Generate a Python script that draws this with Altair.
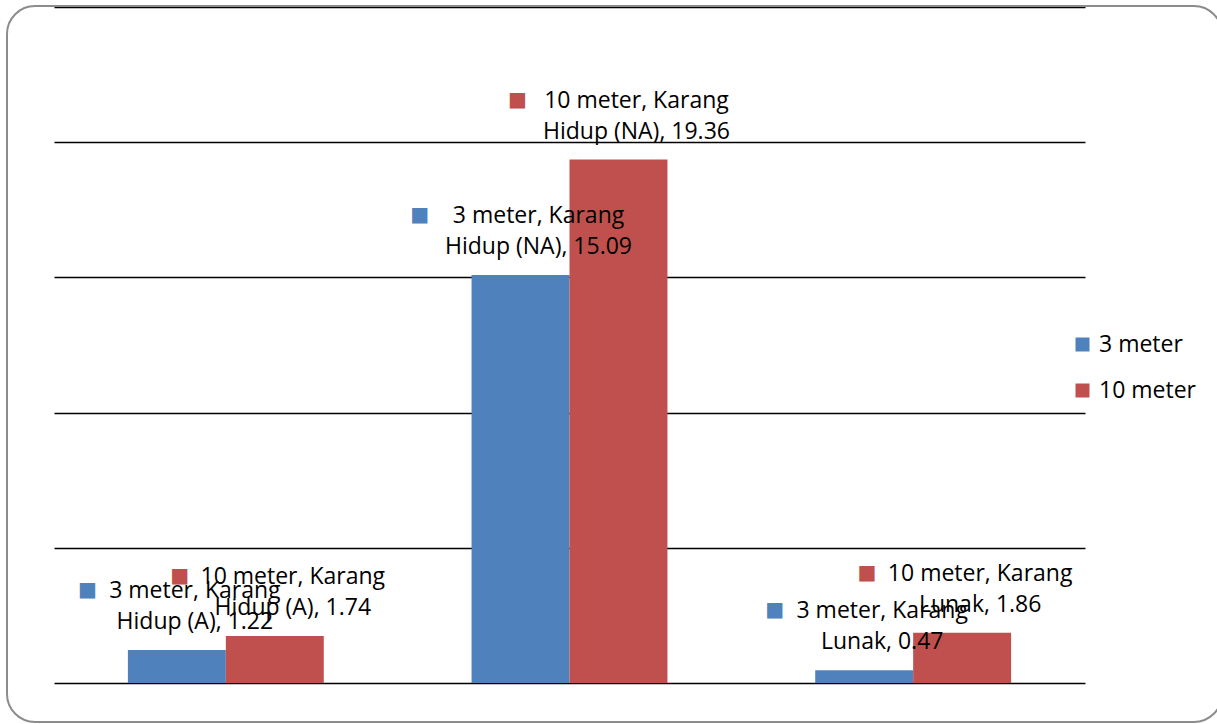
import altair as alt
import pandas as pd

categories = ["Karang Hidup (A)", "Karang Hidup (NA)", "Karang Lunak"]
series = ["3 meter", "10 meter"]
values_3m = [1.22, 15.09, 0.47]
values_10m = [1.74, 19.36, 1.86]
colors = ["#4F81BD", "#C0504D"]

rows = []
for s, vals in zip(series, [values_3m, values_10m]):
    for c, v in zip(categories, vals):
        first, rest = c.split(" ", 1)
        line1 = f"{s}, {first}"
        line2 = f"{rest}, {v:.2f}"
        rows.append({"category": c, "series": s, "value": v,
                     "label": line1 + "\n" + line2,
                     "maxlen": max(len(line1), len(line2))})
df = pd.DataFrame(rows)

FONT = "Open Sans"
FS = 23
CHAR_W = 11.4
TEXT_DX = 18

x_enc = alt.X("category:N", scale=alt.Scale(domain=categories, paddingInner=0.43, paddingOuter=0.215), axis=None)
xo_enc = alt.XOffset("series:N", scale=alt.Scale(domain=series))
y_enc = alt.Y("value:Q", scale=alt.Scale(domain=[0, 25], nice=False),
              axis=alt.Axis(values=[0, 5, 10, 15, 20, 25], grid=True, gridColor="#000000", gridWidth=1.6,
                            labels=False, ticks=False, domain=False, title=None))
color_enc = alt.Color("series:N", scale=alt.Scale(domain=series, range=colors),
                      legend=alt.Legend(title=None, orient="none", legendX=1017, legendY=326,
                                        symbolType="square", symbolSize=196, symbolStrokeWidth=0,
                                        labelFont=FONT, labelFontSize=FS, labelColor="#000000",
                                        rowPadding=22, padding=0, labelOffset=5))

base = alt.Chart(df)

bars = base.mark_bar().encode(x=x_enc, xOffset=xo_enc, y=y_enc, color=color_enc)

labels = base.mark_text(font=FONT, fontSize=FS, lineBreak="\n", lineHeight=31, align="center",
                        baseline="middle", dx=TEXT_DX, dy=-59, color="#000000").encode(
    x=x_enc, xOffset=xo_enc, y=y_enc, text="label:N")

layers = [bars, labels]
for ml in sorted(df["maxlen"].unique()):
    mdx = TEXT_DX - ml * CHAR_W / 2 - 22
    layers.append(base.transform_filter(alt.datum.maxlen == int(ml)).mark_text(
        font="DejaVu Sans", fontSize=20, align="center", baseline="middle", dx=mdx, dy=-60).encode(
        x=x_enc, xOffset=xo_enc, y=y_enc, text=alt.value("■"),
        color=alt.Color("series:N", scale=alt.Scale(domain=series, range=colors), legend=None)))

frame = alt.Chart(alt.Data(values=[{}])).mark_rect(fill="transparent", stroke="#8c8c8c", strokeWidth=2,
                                                  cornerRadius=28).encode(
    x=alt.value(-47), x2=alt.value(1168), y=alt.value(-1), y2=alt.value(715))

chart = alt.layer(frame, *layers).properties(
    width=1031, height=676,
    padding={"left": 54, "top": 7, "right": 132, "bottom": 41},
    autosize=alt.AutoSizeParams(type="none"),
    background="white",
).configure_view(stroke=None)

chart.save("out.html", embed_options={"renderer": "svg", "actions": False})
